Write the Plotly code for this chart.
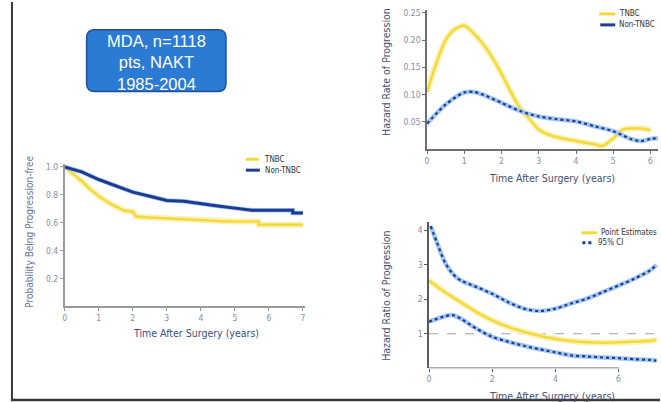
import plotly.graph_objects as go

W, H = 661, 402

# ---------------- data ----------------
km_names = ["TNBC", "Non-TNBC"]
km_time_tnbc = [0, 0.25, 0.5, 0.7, 1.0, 1.35, 1.75, 2.0, 2.1, 2.5, 3.0, 3.5, 4.0, 4.5, 5.0, 5.7, 5.7, 6.0, 6.5, 7.0]
km_surv_tnbc = [1.0, 0.95, 0.90, 0.85, 0.79, 0.735, 0.686, 0.68, 0.645, 0.637, 0.63, 0.625, 0.615, 0.612, 0.61, 0.61, 0.585, 0.585, 0.585, 0.585]
km_time_non = [0, 0.25, 0.5, 1.0, 1.5, 2.0, 2.5, 3.0, 3.5, 4.0, 4.5, 5.0, 5.5, 6.0, 6.5, 6.7, 6.7, 7.0]
km_surv_non = [1.0, 0.985, 0.965, 0.91, 0.865, 0.82, 0.79, 0.76, 0.755, 0.735, 0.72, 0.705, 0.69, 0.69, 0.69, 0.69, 0.67, 0.67]

haz_time_tnbc = [0, 0.25, 0.5, 0.75, 1.0, 1.25, 1.5, 1.75, 2.0, 2.25, 2.5, 2.75, 3.0, 3.25, 3.5, 4.0, 4.5, 4.7, 5.0, 5.25, 5.5, 5.75, 6.0]
haz_tnbc = [0.105, 0.158, 0.2, 0.22, 0.226, 0.212, 0.193, 0.168, 0.138, 0.105, 0.075, 0.055, 0.036, 0.027, 0.022, 0.015, 0.009, 0.006, 0.02, 0.036, 0.038, 0.038, 0.035]
haz_time_non = [0, 0.5, 1.0, 1.25, 1.5, 2.0, 2.5, 3.0, 3.5, 4.0, 4.5, 5.0, 5.5, 5.75, 6.0, 6.2]
haz_non = [0.047, 0.082, 0.104, 0.105, 0.1, 0.085, 0.07, 0.06, 0.055, 0.051, 0.042, 0.033, 0.018, 0.015, 0.019, 0.02]

hr_names = ["Point Estimates", "95% CI"]
hr_time = [0, 0.5, 1, 1.5, 2, 2.5, 3, 3.5, 4, 4.5, 5, 5.5, 6, 6.5, 7, 7.2]
hr_est = [2.55, 2.21, 1.92, 1.63, 1.39, 1.2, 1.06, 0.94, 0.85, 0.79, 0.75, 0.74, 0.75, 0.77, 0.8, 0.82]
hr_time_up = [0.05, 0.25, 0.5, 0.75, 1, 1.5, 2, 2.5, 3, 3.5, 4, 4.5, 5, 5.5, 6, 6.5, 7, 7.2]
hr_upper = [4.13, 3.65, 3.08, 2.74, 2.55, 2.36, 2.16, 1.92, 1.73, 1.66, 1.73, 1.88, 2.02, 2.21, 2.4, 2.6, 2.84, 3.0]
hr_time_lo = [0, 0.5, 0.75, 1, 1.5, 2, 2.5, 3, 3.5, 4, 4.5, 5, 5.5, 6, 6.5, 7, 7.2]
hr_lower = [1.35, 1.51, 1.54, 1.44, 1.15, 0.91, 0.77, 0.65, 0.55, 0.46, 0.37, 0.34, 0.31, 0.29, 0.26, 0.24, 0.22]
hr_ref = 1.0

km_x_ticks = [0, 1, 2, 3, 4, 5, 6, 7]
km_y_ticks = [0.2, 0.4, 0.6, 0.8, 1.0]
km_y_labels = ["0.2", "0.4", "0.6", "0.8", "1.0"]
haz_x_ticks = [0, 1, 2, 3, 4, 5, 6]
haz_y_ticks = [0.05, 0.10, 0.15, 0.20, 0.25]
haz_y_labels = ["0.05", "0.10", "0.15", "0.20", "0.25"]
hr_x_ticks = [0, 2, 4, 6]
hr_y_ticks = [1, 2, 3, 4]

x_title = "Time After Surgery (years)"
km_y_title = "Probability Being Progression-free"
haz_y_title = "Hazard Rate of Progression"
hr_y_title = "Hazard Ratio of Progression"
box_lines = ["MDA, n=1118", "pts, NAKT", "1985-2004"]

# ---------------- styling ----------------
YEL = "#f3da3a"
YEL_HALO = "#fbf1b4"
BLU = "#1c3b92"
BLU_HALO = "#a3c8f0"
NARROW = "Liberation Sans Narrow, Arial Narrow, DejaVu Sans Condensed, sans-serif"
TICKC = "#868ca2"


def fx(px):
    return px / W


def fy(py):
    return 1 - py / H


fig = go.Figure()


def add_curve(x, y, ax, color, halo, width, halo_w, dash="solid", shape="linear"):
    xa = "x" if ax == 1 else "x%d" % ax
    ya = "y" if ax == 1 else "y%d" % ax
    fig.add_trace(go.Scatter(x=x, y=y, xaxis=xa, yaxis=ya, mode="lines",
                             line=dict(color=halo, width=halo_w, shape=shape, smoothing=0.8),
                             showlegend=False, hoverinfo="skip"))
    fig.add_trace(go.Scatter(x=x, y=y, xaxis=xa, yaxis=ya, mode="lines",
                             line=dict(color=color, width=width, dash=dash, shape=shape, smoothing=0.8),
                             showlegend=False))


# panel 1: KM
add_curve(km_time_tnbc, km_surv_tnbc, 1, YEL, YEL_HALO, 2.5, 6)
add_curve(km_time_non, km_surv_non, 1, BLU, BLU_HALO, 3, 4.5)
# panel 2: hazard rates
add_curve(haz_time_tnbc, haz_tnbc, 2, YEL, YEL_HALO, 2.5, 6, shape="spline")
add_curve(haz_time_non, haz_non, 2, BLU, BLU_HALO, 2.2, 4.5, dash="dot", shape="spline")
# panel 3: hazard ratio
add_curve(hr_time, hr_est, 3, YEL, YEL_HALO, 2.5, 6, shape="spline")
add_curve(hr_time_up, hr_upper, 3, BLU, BLU_HALO, 2.2, 4.5, dash="dot", shape="spline")
add_curve(hr_time_lo, hr_lower, 3, BLU, BLU_HALO, 2.2, 4.5, dash="dot", shape="spline")


def axis(domain, rng, ticks, labels=None, linecolor="#9a9a9a", showline=True):
    d = dict(domain=domain, range=rng, tickmode="array", tickvals=ticks,
             showgrid=False, zeroline=False, showline=showline, linecolor=linecolor,
             linewidth=1.5, ticks="outside", ticklen=3, tickcolor=linecolor, tickwidth=1,
             tickfont=dict(size=8.5, color=TICKC, family=NARROW), fixedrange=True)
    if labels is not None:
        d["ticktext"] = labels
    return d


layout = dict(
    width=W, height=H, margin=dict(l=0, r=0, t=0, b=0),
    paper_bgcolor="white", plot_bgcolor="rgba(0,0,0,0)", showlegend=False,
    xaxis=axis([fx(63), fx(304)], [0, 7.05], km_x_ticks),
    yaxis=axis([fy(306), fy(163)], [0, 1.02], km_y_ticks, km_y_labels),
    xaxis2=axis([fx(427), fx(659)], [0, 6.2], haz_x_ticks, linecolor="#6e6e6e"),
    yaxis2=axis([fy(148), fy(8)], [0, 0.255], haz_y_ticks, haz_y_labels, linecolor="#6e6e6e"),
    xaxis3=axis([fx(429), fx(659)], [0, 7.25], hr_x_ticks, linecolor="#5a5a5a", showline=False),
    yaxis3=axis([fy(368), fy(221)], [0, 4.25], hr_y_ticks, linecolor="#5a5a5a"),
)
layout["yaxis"]["anchor"] = "x"
layout["xaxis"]["anchor"] = "y"
layout["xaxis2"]["anchor"] = "y2"
layout["yaxis2"]["anchor"] = "x2"
layout["xaxis3"]["anchor"] = "y3"
layout["yaxis3"]["anchor"] = "x3"
fig.update_layout(**layout)

shapes = []
ann = []

# panel 3 x-axis line (stops at 6) and reference line at HR = 1
shapes.append(dict(type="line", xref="x3", yref="y3", x0=0, x1=hr_x_ticks[-1], y0=0, y1=0,
                   line=dict(color="#5a5a5a", width=1.5)))
shapes.append(dict(type="line", xref="x3", yref="y3", x0=0, x1=hr_time[-1], y0=hr_ref, y1=hr_ref,
                   line=dict(color="#a0a0a0", width=1, dash="dash"), layer="below"))

# axis titles
TITLEC = "#454e70"
ann.append(dict(x=fx(195), y=fy(333), text=x_title, font=dict(size=10.5, color="#3d4b82", family=NARROW)))
ann.append(dict(x=fx(28), y=fy(231), text=km_y_title, textangle=-90,
                font=dict(size=10, color="#6a7498", family=NARROW)))
ann.append(dict(x=fx(553), y=fy(177), text=x_title, font=dict(size=10.5, color=TITLEC, family=NARROW)))
ann.append(dict(x=fx(385), y=fy(70), text=haz_y_title, textangle=-90,
                font=dict(size=10.5, color=TITLEC, family=NARROW)))
ann.append(dict(x=fx(553), y=fy(396), text=x_title, font=dict(size=10.5, color=TITLEC, family=NARROW)))
ann.append(dict(x=fx(385), y=fy(295), text=hr_y_title, textangle=-90,
                font=dict(size=10.5, color=TITLEC, family=NARROW)))


# manual compact legends
def legend_entry(x0, x1, y, color, dash, label, tx):
    shapes.append(dict(type="line", xref="paper", yref="paper", x0=fx(x0), x1=fx(x1), y0=fy(y), y1=fy(y),
                       line=dict(color=color, width=3, dash=dash)))
    ann.append(dict(x=fx(tx), y=fy(y), text=label, xanchor="left",
                    font=dict(size=8, color="#333333", family=NARROW)))


legend_entry(245, 258, 158, YEL, "solid", km_names[0], 261)
legend_entry(245, 259, 169, BLU, "solid", km_names[1], 262)
legend_entry(600, 616, 12, YEL, "solid", km_names[0], 618)
legend_entry(601, 616, 23, BLU, "solid", km_names[1], 618)
legend_entry(582, 598, 232, YEL, "solid", hr_names[0], 600)
legend_entry(583, 595, 242, BLU, "dot", hr_names[1], 597)

# blue box
bx0, bx1, by0, by1, r = 85, 225, 28, 90, 8
path = ("M {a},{b} L {c},{b} Q {d},{b} {d},{e} L {d},{f} Q {d},{g} {c},{g} "
        "L {a},{g} Q {h},{g} {h},{f} L {h},{e} Q {h},{b} {a},{b} Z").format(
    a=fx(bx0 + r), b=fy(by0), c=fx(bx1 - r), d=fx(bx1), e=fy(by0 + r), f=fy(by1 - r), g=fy(by1), h=fx(bx0))
shapes.append(dict(type="path", xref="paper", yref="paper", path=path,
                   fillcolor="#2b7ad4", line=dict(color="#1d4f9c", width=1.5)))
ann.append(dict(x=fx(155), y=fy(61), text="<br>".join(box_lines),
                font=dict(size=16.5, color="white", family="Liberation Sans, Arial, sans-serif")))

# slide frame: left and bottom dark lines
shapes.append(dict(type="line", xref="paper", yref="paper", x0=fx(10), x1=fx(10), y0=fy(0), y1=fy(400),
                   line=dict(color="#3a3a3a", width=2)))
shapes.append(dict(type="line", xref="paper", yref="paper", x0=fx(9), x1=1, y0=fy(400), y1=fy(400),
                   line=dict(color="#3a3a3a", width=2.5)))

for a in ann:
    a.setdefault("xref", "paper")
    a.setdefault("yref", "paper")
    a.setdefault("showarrow", False)
    a.setdefault("xanchor", "center")
    a.setdefault("yanchor", "middle")
fig.update_layout(shapes=shapes, annotations=ann)

fig.write_html("out.html")
